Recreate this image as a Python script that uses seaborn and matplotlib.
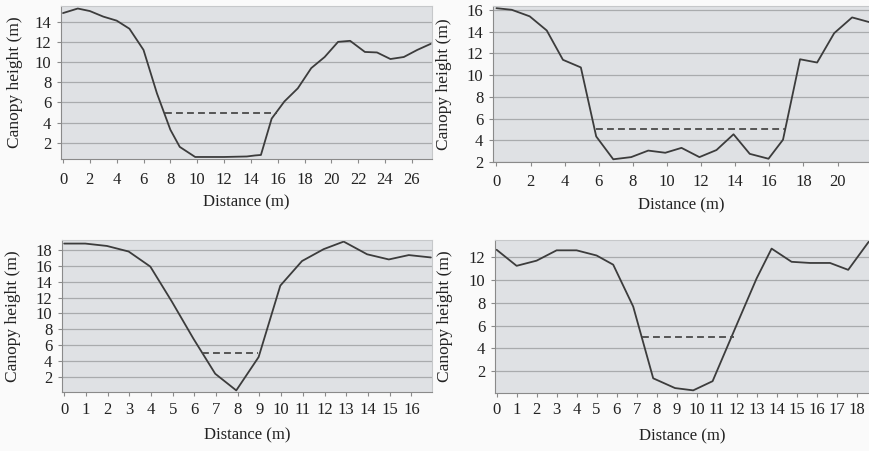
import pandas as pd
import matplotlib.pyplot as plt
import seaborn as sns

# panel 1 (top left)
dist_a = [0, 1.1, 2.0, 3.0, 4.0, 4.95, 6.0, 7.0, 8.0, 8.7, 9.85, 12.0, 13.7, 14.3, 14.75,
          15.55, 16.5, 17.5, 18.5, 19.5, 20.5, 21.4, 22.5, 23.4, 24.4, 25.4, 26.4, 27.4]
height_a = [14.85, 15.3, 15.05, 14.5, 14.1, 13.3, 11.2, 6.9, 3.3, 1.6, 0.6, 0.6, 0.65, 0.75, 0.8,
            4.4, 6.1, 7.4, 9.4, 10.5, 12.0, 12.1, 11.0, 10.95, 10.3, 10.5, 11.2, 11.8]
gap_a = [7.6, 15.95]

# panel 2 (top right)
dist_b = [0, 0.9, 1.95, 2.95, 3.9, 4.95, 5.85, 6.85, 7.9, 8.9, 9.9, 10.85,
          11.9, 12.9, 13.9, 14.85, 15.95, 16.8, 17.8, 18.8, 19.8, 20.85, 21.9]
height_b = [16.15, 16.0, 15.4, 14.1, 11.4, 10.7, 4.35, 2.25, 2.45, 3.05, 2.85, 3.3,
            2.45, 3.1, 4.55, 2.75, 2.3, 4.05, 11.45, 11.15, 13.85, 15.3, 14.85]
gap_b = [5.85, 16.9]

# panel 3 (bottom left)
dist_c = [0, 0.97, 1.97, 2.97, 3.97, 4.96, 5.96, 6.96, 7.93, 8.96, 9.96,
          10.96, 11.96, 12.88, 13.96, 14.96, 15.88, 16.9]
height_c = [18.8, 18.8, 18.5, 17.8, 15.9, 11.5, 6.8, 2.4, 0.3, 4.5, 13.5,
            16.6, 18.1, 19.05, 17.45, 16.8, 17.35, 17.05]
gap_c = [6.35, 8.95]

# panel 4 (bottom right)
dist_d = [0, 1.0, 2.0, 3.0, 4.0, 5.0, 5.83, 6.83, 7.83, 8.92, 9.83, 10.8,
          12.0, 13.0, 13.75, 14.75, 15.67, 16.67, 17.58, 18.67]
height_d = [12.6, 11.2, 11.65, 12.55, 12.55, 12.1, 11.3, 7.65, 1.4, 0.55, 0.35, 1.15,
            6.05, 10.1, 12.7, 11.55, 11.45, 11.45, 10.85, 13.45]
gap_d = [7.25, 11.85]

gap_height = 5

# data, gap, box (px), xlim, ylim, xticks, yticks, x tick pad, ylabel x (px)
panels = [
    (dist_a, height_a, gap_a, [61, 6, 432, 159], (-0.15, 27.5), (0.4, 15.55), range(0, 27, 2), range(2, 15, 2), 6.5, 15),
    (dist_b, height_b, gap_b, [493, 6, 870, 162], (-0.2, 21.9), (2, 16.35), range(0, 21, 2), range(2, 17, 2), 5.5, 444),
    (dist_c, height_c, gap_c, [62, 240, 432, 392], (-0.1, 16.95), (0.1, 19.25), range(0, 17), range(2, 19, 2), 4, 13),
    (dist_d, height_d, gap_d, [495, 240, 870, 393], (-0.08, 18.67), (0.12, 13.45), range(0, 19), range(2, 13, 2), 3.5, 445),
]

sns.set_style("white")
plt.rcParams['font.family'] = ['Liberation Serif', 'DejaVu Serif']

W, H = 870, 451
fig = plt.figure(figsize=(W / 100, H / 100), dpi=100, facecolor='#fafafa')

for dist, height, gap, box, xl, yl, xt, yt, xpad, ylab_x in panels:
    l, t, r, b = box
    w, h = r - l, b - t
    ax = fig.add_axes([l / W, 1 - b / H, w / W, h / H])
    ax.set_facecolor('#dfe1e4')
    df = pd.DataFrame({'Distance': dist, 'Height': height})
    sns.lineplot(data=df, x='Distance', y='Height', ax=ax, color='#3c3c3c', linewidth=1.3)
    ax.plot(gap, [gap_height, gap_height], color='#4a4a4a', linestyle=(0, (3.8, 2.3)), linewidth=1.3)
    ax.set_xlim(*xl)
    ax.set_ylim(*yl)
    ax.set_xticks(list(xt))
    ax.set_yticks(list(yt))
    ax.yaxis.grid(True, color='#a9abad', linewidth=0.9)
    ax.set_axisbelow(True)
    for s in ax.spines.values():
        s.set_color('#c6c8ca')
        s.set_linewidth(0.8)
    ax.spines['bottom'].set_color('#8a8a8a')
    ax.spines['left'].set_color('#8a8a8a')
    ax.tick_params(axis='both', length=3, color='#8a8a8a', labelsize=12, colors='#222222',
                   direction='out', bottom=True, left=True)
    ax.tick_params(axis='x', pad=xpad)
    ax.tick_params(axis='y', pad=4)
    ax.set_xlabel('Distance (m)', fontsize=12, color='#222222')
    ax.set_ylabel('Canopy height (m)', fontsize=12.5, color='#222222')
    ax.xaxis.set_label_coords(0.5, -43.5 / h)
    ax.xaxis.label.set_va('center')
    ax.yaxis.set_label_coords((ylab_x - l) / w, 0.5)
    ax.yaxis.label.set_va('center')

fig.savefig('out.png', dpi=100, facecolor=fig.get_facecolor())
